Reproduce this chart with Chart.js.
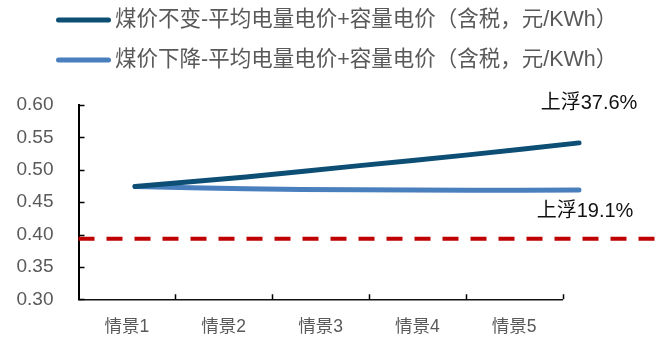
<!DOCTYPE html>
<html>
<head>
<meta charset="utf-8">
<script src="https://cdn.jsdelivr.net/npm/chart.js@4.4.0/dist/chart.umd.min.js"></script>
<style>
  html, body { margin: 0; padding: 0; background: #ffffff; }
  #wrap { width: 660px; height: 338px; position: relative; }
</style>
</head>
<body>
<div id="wrap"><canvas id="chart"></canvas></div>
<script>
// Scenario categories and the two price paths (元/KWh, tax included)
const scenarios = ['情景1', '情景2', '情景3', '情景4', '情景5'];
const seriesNames = [
  '煤价不变-平均电量电价+容量电价（含税，元/KWh）',
  '煤价下降-平均电量电价+容量电价（含税，元/KWh）'
];
const priceCoalFlat = [0.474, 0.489, 0.506, 0.523, 0.5415];
const priceCoalDown = [0.474, 0.4705, 0.469, 0.4685, 0.4687];
// Reference price level (dashed line) and the rise of each path's last value over it
const basePrice = [0.3935, 0.3935];
const endLabels = ['上浮37.6%', '上浮19.1%'];
const yTickValues = [0.30, 0.35, 0.40, 0.45, 0.50, 0.55, 0.60];

const CJK = '"Liberation Sans", "Noto Sans CJK SC", sans-serif';
const GREY = '#595959';

// the price paths run on their own hidden linear axis (scenario index)
const toPoints = arr => arr.map((v, i) => ({ x: i, y: v }));

// inward tick marks on both axes
const innerTicks = {
  id: 'innerTicks',
  afterDraw(chart) {
    const { ctx, chartArea: a, scales } = chart;
    ctx.save();
    ctx.strokeStyle = '#000';
    ctx.lineWidth = 1.5;
    ctx.beginPath();
    scales.y.ticks.forEach((t, i) => {
      const y = Math.round(scales.y.getPixelForTick(i)) + 0.5;
      ctx.moveTo(a.left, y);
      ctx.lineTo(a.left + 6, y);
    });
    const n = scales.x.ticks.length;
    for (let i = 1; i <= n; i++) {
      const x = Math.round(a.left + (a.right - a.left) * i / n) + 0.5;
      ctx.moveTo(x, a.bottom);
      ctx.lineTo(x, a.bottom - 5);
    }
    ctx.stroke();
    ctx.restore();
  }
};

// text next to the last point of each price path
const endText = {
  id: 'endText',
  afterDatasetsDraw(chart) {
    const { ctx } = chart;
    const offsets = [{ dx: 10, dy: -39 }, { dx: 6, dy: 21 }];
    ctx.save();
    ctx.font = '20px ' + CJK;
    ctx.fillStyle = '#111111';
    ctx.textAlign = 'center';
    ctx.textBaseline = 'middle';
    endLabels.forEach((txt, i) => {
      const pts = chart.getDatasetMeta(i).data;
      const p = pts[pts.length - 1];
      ctx.fillText(txt, p.x + offsets[i].dx, p.y + offsets[i].dy);
    });
    ctx.restore();
  }
};

// stacked legend rows: a thick line sample followed by the series name
const rowLegend = {
  id: 'rowLegend',
  afterDraw(chart) {
    const { ctx } = chart;
    const o = chart.options.plugins.rowLegend;
    ctx.save();
    ctx.font = o.fontSize + 'px ' + CJK;
    ctx.fillStyle = GREY;
    ctx.textAlign = 'left';
    ctx.textBaseline = 'middle';
    let row = 0;
    chart.data.datasets.forEach(ds => {
      if (!ds.label) return;
      const y = o.top + row * o.rowGap;
      ctx.strokeStyle = ds.borderColor;
      ctx.lineWidth = ds.borderWidth;
      ctx.lineCap = 'round';
      ctx.beginPath();
      ctx.moveTo(o.left + ds.borderWidth / 2, y);
      ctx.lineTo(o.left + o.sample - ds.borderWidth / 2, y);
      ctx.stroke();
      ctx.fillText(ds.label, o.left + o.sample + 4, y);
      row++;
    });
    ctx.restore();
  }
};

new Chart(document.getElementById('chart'), {
  type: 'line',
  data: {
    labels: scenarios,
    datasets: [
      {
        label: seriesNames[0],
        data: toPoints(priceCoalFlat),
        xAxisID: 'xs',
        borderColor: '#0d4e74',
        backgroundColor: '#0d4e74',
        borderWidth: 5,
        borderCapStyle: 'round',
        pointRadius: 0,
        tension: 0.4,
        clip: false
      },
      {
        label: seriesNames[1],
        data: toPoints(priceCoalDown),
        xAxisID: 'xs',
        borderColor: '#4a7fbd',
        backgroundColor: '#4a7fbd',
        borderWidth: 5,
        borderCapStyle: 'round',
        pointRadius: 0,
        tension: 0.4,
        clip: false
      },
      {
        label: '',
        data: [{ x: -0.509, y: basePrice[0] }, { x: 4.685, y: basePrice[1] }],
        xAxisID: 'xs',
        borderColor: '#c00000',
        borderWidth: 4,
        borderDash: [16, 12],
        pointRadius: 0,
        clip: false
      }
    ]
  },
  options: {
    responsive: true,
    maintainAspectRatio: false,
    animation: false,
    layout: { padding: { top: 105, left: 12, right: 97.5, bottom: 0 } },
    plugins: {
      tooltip: { enabled: false },
      legend: { display: false },
      rowLegend: { left: 56, top: 20, rowGap: 40, sample: 55, fontSize: 21.5 }
    },
    scales: {
      x: {
        type: 'category',
        offset: true,
        grid: { display: false, drawTicks: false },
        border: { display: true, color: '#111', width: 1.5 },
        ticks: { font: { family: CJK, size: 17.5 }, color: GREY, padding: 17 },
        afterFit: s => { s.height = 38.7; }
      },
      xs: {
        type: 'linear',
        display: false,
        min: -0.509,
        max: 3.851
      },
      y: {
        min: yTickValues[0],
        max: yTickValues[yTickValues.length - 1],
        afterBuildTicks: scale => { scale.ticks = yTickValues.map(v => ({ value: v })); },
        grid: { display: false, drawTicks: false },
        border: { display: true, color: '#000', width: 2 },
        ticks: {
          font: { family: '"Liberation Sans", sans-serif', size: 19 },
          color: GREY,
          padding: 25,
          callback: v => Number(v).toFixed(2)
        },
        afterFit: s => { s.width = 66.5; }
      }
    }
  },
  plugins: [innerTicks, endText, rowLegend]
});
</script>
</body>
</html>
